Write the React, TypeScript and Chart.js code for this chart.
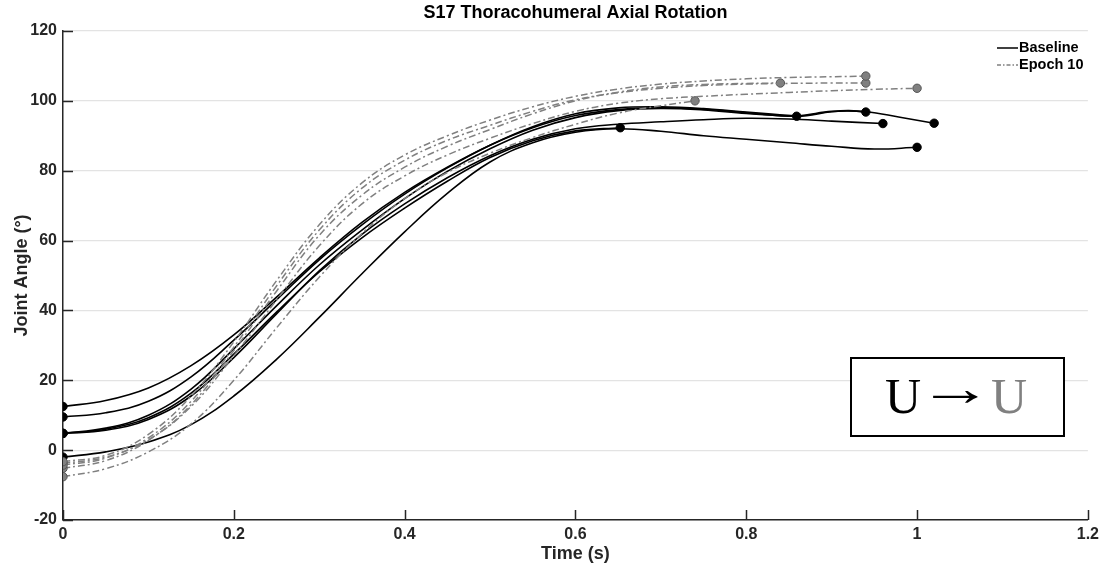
import React, { useEffect, useRef } from "react";
import { Chart, registerables } from "chart.js";

Chart.register(...registerables);

// ---- text ----
const chartTitle = "S17 Thoracohumeral Axial Rotation";
const xAxisTitle = "Time (s)";
const yAxisTitle = "Joint Angle (°)";
const seriesNames = ["Baseline", "Epoch 10"];
const boxLeft = "U";
const boxArrow = "\u2192";
const boxRight = "U";

// ---- axes ----
const xMin = 0;
const xMax = 1.2;
const xStep = 0.2;
const yMin = -20;
const yMax = 120;
const yStep = 20;

// ---- Baseline trials: [time (s), angle (deg)] ----
const baseline1: [number, number][] = [
  [0, 12.5], [0.05, 14.2], [0.1, 17.8], [0.15, 24.2], [0.2, 33], [0.25, 43.8], [0.3, 55],
  [0.35, 65.2], [0.4, 73.8], [0.45, 81], [0.5, 87.3], [0.55, 92.3], [0.6, 95.8], [0.65, 97.5],
  [0.7, 98], [0.75, 97.6], [0.8, 96.6], [0.86, 95.6], [0.9, 96.9], [0.92, 97.2], [0.94, 96.8],
];
const baseline2: [number, number][] = [
  [0, 9.5], [0.05, 10.7], [0.1, 14], [0.15, 21], [0.2, 31.5], [0.25, 43], [0.3, 54.5],
  [0.35, 64.5], [0.4, 73.3], [0.45, 80.8], [0.5, 87.3], [0.55, 92.6], [0.6, 96.3], [0.65, 98],
  [0.7, 98.3], [0.75, 97.8], [0.8, 96.8], [0.859, 95.6],
];
const baseline3: [number, number][] = [
  [0, 4.8], [0.05, 6.3], [0.1, 10], [0.15, 17.5], [0.2, 29], [0.25, 41.3], [0.3, 53],
  [0.35, 63], [0.4, 72], [0.45, 79.8], [0.5, 86.3], [0.55, 91.6], [0.6, 95.2], [0.65, 97.2],
  [0.7, 97.8], [0.75, 97.4], [0.8, 96.4], [0.86, 95.8], [0.9, 97], [0.94, 96.9], [0.98, 95.3],
  [1.02, 93.6],
];
const baseline4: [number, number][] = [
  [0, 4.8], [0.05, 5.7], [0.1, 8.8], [0.15, 15.5], [0.2, 26.5], [0.25, 39], [0.3, 51.3],
  [0.35, 61.8], [0.4, 70.5], [0.45, 78], [0.5, 84.3], [0.55, 89], [0.6, 92], [0.65, 93.3],
  [0.7, 94], [0.75, 94.6], [0.8, 95], [0.85, 94.8], [0.9, 94.2], [0.96, 93.5],
];
const baseline5: [number, number][] = [
  [0, -2], [0.05, -0.5], [0.1, 2.3], [0.15, 7.3], [0.2, 15.5], [0.25, 26], [0.3, 38],
  [0.35, 50.5], [0.4, 62.5], [0.45, 73.5], [0.5, 82.5], [0.55, 88], [0.6, 91], [0.65, 92],
  [0.7, 91.3], [0.75, 90], [0.8, 89], [0.85, 88], [0.9, 87], [0.95, 86.2], [1.0, 86.7],
];
const baseline6: [number, number][] = [
  [0, 4.8], [0.05, 6], [0.1, 9.3], [0.15, 16.3], [0.2, 27.5], [0.25, 39.5], [0.3, 51],
  [0.35, 60.8], [0.4, 69.3], [0.45, 77], [0.5, 83.8], [0.55, 88.6], [0.6, 91.4], [0.6525, 92.3],
];

// ---- Epoch 10 trials: [time (s), angle (deg)] ----
const epoch1: [number, number][] = [
  [0, -3.3], [0.05, -1.5], [0.1, 4.5], [0.15, 15.5], [0.2, 31], [0.25, 48.5], [0.3, 64.5],
  [0.35, 76.5], [0.4, 84.5], [0.45, 90], [0.5, 94.5], [0.55, 98.3], [0.6, 101.3], [0.65, 103.4],
  [0.7, 104.8], [0.75, 105.7], [0.8, 106.3], [0.85, 106.7], [0.9, 106.9], [0.94, 107.1],
];
const epoch2: [number, number][] = [
  [0, -4.3], [0.05, -2.3], [0.1, 3.5], [0.15, 14], [0.2, 29.5], [0.25, 47], [0.3, 63],
  [0.35, 75], [0.4, 83], [0.45, 88.7], [0.5, 93], [0.55, 97], [0.6, 100.3], [0.65, 102.3],
  [0.7, 103.6], [0.75, 104.4], [0.8, 104.8], [0.85, 105], [0.9, 105.1], [0.94, 105.1],
];
const epoch3: [number, number][] = [
  [0, -5.2], [0.05, -3], [0.1, 2.8], [0.15, 13], [0.2, 28.5], [0.25, 45.5], [0.3, 61.5],
  [0.35, 73], [0.4, 81], [0.45, 87], [0.5, 91.8], [0.55, 96.3], [0.6, 100], [0.65, 102.5],
  [0.7, 104], [0.75, 104.7], [0.8, 105], [0.84, 105.1],
];
const epoch4: [number, number][] = [
  [0, -3.8], [0.05, -2], [0.1, 3], [0.15, 12.5], [0.2, 27], [0.25, 43], [0.3, 58.5],
  [0.35, 70.5], [0.4, 78.5], [0.45, 84.5], [0.5, 89.3], [0.55, 93.5], [0.6, 97], [0.65, 99.3],
  [0.7, 100.6], [0.75, 101.3], [0.8, 101.9], [0.85, 102.4], [0.9, 102.9], [0.95, 103.3],
  [1.0, 103.6],
];
const epoch5: [number, number][] = [
  [0, -7.6], [0.05, -5.3], [0.1, -0.5], [0.15, 7.5], [0.2, 20], [0.25, 35], [0.3, 49.5],
  [0.35, 62], [0.4, 72], [0.45, 79.5], [0.5, 85], [0.55, 89.5], [0.6, 93.3], [0.65, 96.5],
  [0.7, 98.6], [0.74, 100],
];

const baselineTrials = [baseline1, baseline2, baseline3, baseline4, baseline5, baseline6];
const epochTrials = [epoch1, epoch2, epoch3, epoch4, epoch5];

const BLACK = "#000000";
const GREY = "#808080";
const GREY_EDGE = "#555555";
const AXIS = "#262626";
const DASH_DOT = [7, 3, 2, 3];
const SANS = "'Liberation Sans', Arial, Helvetica, sans-serif";
const SERIF = "'Liberation Serif', 'Times New Roman', Times, serif";

const endpointRadius = (ctx: any) => {
  const n = ctx.dataset.data.length;
  return ctx.dataIndex === 0 || ctx.dataIndex === n - 1 ? 4.2 : 0;
};

const fmt = (v: number) => String(Number(v.toFixed(2)));

const decorPlugin = {
  id: "decor",
  afterDraw(chart: any) {
    const { ctx, chartArea, scales } = chart;
    const xs = scales.x;
    const ys = scales.y;
    ctx.save();

    // inward ticks
    ctx.strokeStyle = AXIS;
    ctx.lineWidth = 1.5;
    ctx.beginPath();
    for (let v = yMin; v <= yMax + 1e-9; v += yStep) {
      const py = Math.round(ys.getPixelForValue(v)) + 0.5;
      ctx.moveTo(chartArea.left, py);
      ctx.lineTo(chartArea.left + 10, py);
    }
    for (let v = xMin; v <= xMax + 1e-9; v += xStep) {
      const px = Math.round(xs.getPixelForValue(v)) + 0.5;
      ctx.moveTo(px, chartArea.bottom);
      ctx.lineTo(px, chartArea.bottom - 10);
    }
    ctx.stroke();

    // title
    const cx = (chartArea.left + chartArea.right) / 2;
    ctx.fillStyle = "#000";
    ctx.font = `bold 18px ${SANS}`;
    ctx.textAlign = "center";
    ctx.textBaseline = "alphabetic";
    ctx.fillText(chartTitle, cx, 18);

    // x axis title
    ctx.fillStyle = AXIS;
    ctx.font = `bold 18px ${SANS}`;
    ctx.fillText(xAxisTitle, cx, 559);

    // y axis title
    ctx.save();
    ctx.translate(27, (chartArea.top + chartArea.bottom) / 2);
    ctx.rotate(-Math.PI / 2);
    ctx.fillText(yAxisTitle, 0, 0);
    ctx.restore();

    // legend
    const lx0 = 997;
    const lx1 = 1018;
    const ly = [48, 65];
    ctx.lineWidth = 1.5;
    ctx.strokeStyle = BLACK;
    ctx.setLineDash([]);
    ctx.beginPath();
    ctx.moveTo(lx0, ly[0]);
    ctx.lineTo(lx1, ly[0]);
    ctx.stroke();
    ctx.strokeStyle = GREY;
    ctx.lineWidth = 1.5;
    ctx.setLineDash([4, 2, 1.5, 2]);
    ctx.beginPath();
    ctx.moveTo(lx0, ly[1]);
    ctx.lineTo(lx1, ly[1]);
    ctx.stroke();
    ctx.setLineDash([]);
    ctx.fillStyle = "#000";
    ctx.font = `bold 14.5px ${SANS}`;
    ctx.textAlign = "left";
    ctx.textBaseline = "middle";
    ctx.fillText(seriesNames[0], lx1 + 1, ly[0]);
    ctx.fillText(seriesNames[1], lx1 + 1, ly[1]);

    // annotation box
    const bx = 851;
    const by = 358;
    const bw = 213;
    const bh = 78;
    ctx.fillStyle = "#fff";
    ctx.fillRect(bx, by, bw, bh);
    ctx.strokeStyle = "#000";
    ctx.lineWidth = 2;
    ctx.strokeRect(bx, by, bw, bh);
    ctx.font = `50px ${SERIF}`;
    ctx.textBaseline = "alphabetic";
    ctx.textAlign = "left";
    const tb = 413;
    const mU = ctx.measureText(boxLeft);
    ctx.fillStyle = "#000";
    ctx.fillText(boxLeft, bx + 35 + mU.actualBoundingBoxLeft, tb);
    // arrow stretched to span its ink box
    const mA = ctx.measureText(boxArrow);
    const inkW = Math.max(1, mA.actualBoundingBoxRight + mA.actualBoundingBoxLeft);
    const aScale = 45 / inkW;
    const aMid = (mA.actualBoundingBoxAscent - mA.actualBoundingBoxDescent) / 2;
    ctx.save();
    ctx.translate(bx + 82, by + bh / 2 + aMid);
    ctx.scale(aScale, 1);
    ctx.fillText(boxArrow, mA.actualBoundingBoxLeft, 0);
    ctx.restore();
    ctx.fillStyle = GREY;
    const mU2 = ctx.measureText(boxRight);
    ctx.fillText(boxRight, bx + 141 + mU2.actualBoundingBoxLeft, tb);

    ctx.restore();
  },
};

export default function App() {
  const canvasRef = useRef<HTMLCanvasElement | null>(null);

  useEffect(() => {
    const canvas = canvasRef.current;
    if (!canvas) return;

    const datasets: any[] = [];
    baselineTrials.forEach((trial, i) => {
      datasets.push({
        label: `${seriesNames[0]} ${i + 1}`,
        data: trial.map(([x, y]) => ({ x, y })),
        borderColor: BLACK,
        borderWidth: 1.6,
        backgroundColor: BLACK,
        pointBackgroundColor: BLACK,
        pointBorderColor: BLACK,
        pointBorderWidth: 1,
        pointRadius: endpointRadius,
        tension: 0.4,
        fill: false,
        order: 2,
      });
    });
    epochTrials.forEach((trial, i) => {
      datasets.push({
        label: `${seriesNames[1]} ${i + 1}`,
        data: trial.map(([x, y]) => ({ x, y })),
        borderColor: GREY,
        borderWidth: 1.5,
        borderDash: DASH_DOT,
        backgroundColor: GREY,
        pointBackgroundColor: GREY,
        pointBorderColor: GREY_EDGE,
        pointBorderWidth: 1,
        pointRadius: endpointRadius,
        tension: 0.4,
        fill: false,
        order: 1,
      });
    });

    const chart = new Chart(canvas, {
      type: "line",
      data: { datasets },
      options: {
        responsive: false,
        animation: false,
        events: [],
        layout: { padding: { top: 31, right: 13, bottom: 0, left: 0 } },
        plugins: {
          legend: { display: false },
          title: { display: false },
          tooltip: { enabled: false },
        },
        scales: {
          x: {
            type: "linear",
            min: xMin,
            max: xMax,
            afterFit: (s: any) => {
              s.height = 47;
            },
            ticks: {
              stepSize: xStep,
              padding: 5,
              color: AXIS,
              font: { family: SANS, size: 16, weight: "bold" },
              callback: (v: any) => fmt(Number(v)),
              maxRotation: 0,
              autoSkip: false,
            },
            grid: { display: false, drawTicks: false },
            border: { display: true, color: AXIS, width: 1.5 },
          },
          y: {
            type: "linear",
            min: yMin,
            max: yMax,
            afterFit: (s: any) => {
              s.width = 63;
            },
            ticks: {
              stepSize: yStep,
              padding: 6,
              color: AXIS,
              font: { family: SANS, size: 16, weight: "bold" },
              callback: (v: any) => fmt(Number(v)),
            },
            grid: { display: true, color: "#e3e3e3", lineWidth: 1.2, drawTicks: false },
            border: { display: true, color: AXIS, width: 1.5 },
          },
        },
      } as any,
      plugins: [decorPlugin],
    });

    return () => chart.destroy();
  }, []);

  return (
    <div style={{ position: "absolute", left: 0, top: 0, width: 1104, height: 567, background: "#fff" }}>
      <canvas ref={canvasRef} width={1104} height={567} style={{ display: "block" }} />
    </div>
  );
}
